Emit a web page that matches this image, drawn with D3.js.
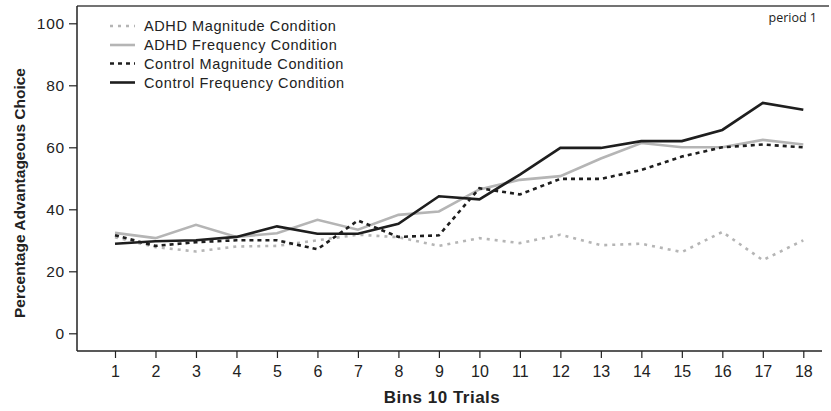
<!DOCTYPE html>
<html><head><meta charset="utf-8">
<script src="https://cdn.jsdelivr.net/npm/d3@7"></script>
<style>
body{margin:0;background:#fff;}
svg{display:block;}
</style></head><body>
<svg id="chart" width="831" height="411"></svg>
<script>
const bins = [1,2,3,4,5,6,7,8,9,10,11,12,13,14,15,16,17,18];
const adhdMagnitude = [31, 27.8, 26.4, 28, 28.2, 30, 31.8, 31, 28.2, 30.7, 29.1, 31.8, 28.4, 28.9, 26.2, 32.7, 23.6, 30];
const adhdFrequency = [32.4, 30.7, 35, 31.1, 32.3, 36.6, 33.4, 38.2, 39.3, 46.4, 49.5, 50.7, 56.4, 61.4, 60, 60, 62.4, 60.9];
const controlMagnitude = [31.6, 28.2, 29.4, 30, 30, 27.1, 36.4, 31.1, 31.6, 46.8, 44.8, 49.8, 49.8, 52.7, 57, 60, 60.9, 60];
const controlFrequency = [28.9, 29.7, 30, 31.1, 34.5, 32.1, 32.1, 35.3, 44.2, 43.2, 51.2, 59.8, 59.8, 62, 62, 65.6, 74.3, 72.1];
const yTicks = [0, 20, 40, 60, 80, 100];
const seriesNames = ["ADHD Magnitude Condition", "ADHD Frequency Condition", "Control Magnitude Condition", "Control Frequency Condition"];

const series = [
  {name: seriesNames[0], values: adhdMagnitude, color: "#b5b5b5", dash: "3,5"},
  {name: seriesNames[1], values: adhdFrequency, color: "#b5b5b5", dash: null},
  {name: seriesNames[2], values: controlMagnitude, color: "#1e1e1e", dash: "4,4"},
  {name: seriesNames[3], values: controlFrequency, color: "#1e1e1e", dash: null}
];

const svg = d3.select("#chart");
const frameLeft = 77, frameTop = 6, frameBottom = 351, frameRightTop = 829, frameRightBottom = 822;
const x = d3.scaleLinear().domain([1, 18]).range([115, 803.3]);
const y = d3.scaleLinear().domain([0, 100]).range([333.3, 23.3]);
const font = "'Liberation Sans', Arial, Helvetica, sans-serif";

// frame
svg.append("line").attr("x1", frameLeft).attr("x2", frameRightTop).attr("y1", frameTop).attr("y2", frameTop)
  .attr("stroke", "#444").attr("stroke-width", 1.5);
svg.append("line").attr("x1", frameLeft).attr("x2", frameLeft).attr("y1", frameTop).attr("y2", frameBottom)
  .attr("stroke", "#222").attr("stroke-width", 1.5);
svg.append("line").attr("x1", frameLeft).attr("x2", frameRightBottom).attr("y1", frameBottom).attr("y2", frameBottom)
  .attr("stroke", "#222").attr("stroke-width", 1.5);

// y axis
const yAxis = d3.axisLeft(y).tickValues(yTicks).tickSize(8).tickPadding(4);
const gy = svg.append("g").attr("transform", `translate(${frameLeft},0)`).call(yAxis);
gy.select(".domain").remove();
gy.selectAll(".tick line").attr("stroke", "#222").attr("stroke-width", 1.2);
gy.selectAll(".tick text").attr("font-family", font).attr("font-size", 15.5)
  .attr("letter-spacing", 0.8).attr("fill", "#222");

// x axis
const xAxis = d3.axisBottom(x).tickValues(bins).tickSize(7).tickPadding(8).tickFormat(d3.format("d"));
const gx = svg.append("g").attr("transform", `translate(0,${frameBottom})`).call(xAxis);
gx.select(".domain").remove();
gx.selectAll(".tick line").attr("stroke", "#222").attr("stroke-width", 1.2);
gx.selectAll(".tick text").attr("font-family", font)
  .attr("font-size", 16).attr("fill", "#222");

// lines
const line = d3.line().x((d, i) => x(bins[i])).y(d => y(d));
series.forEach(s => {
  svg.append("path").datum(s.values).attr("d", line)
    .attr("fill", "none").attr("stroke", s.color).attr("stroke-width", 2.6)
    .attr("stroke-dasharray", s.dash).attr("stroke-linejoin", "miter");
});

// legend
const legY = [26, 45, 63.5, 82.5];
series.forEach((s, i) => {
  svg.append("line").attr("x1", 110).attr("x2", 135).attr("y1", legY[i]).attr("y2", legY[i])
    .attr("stroke", s.color).attr("stroke-width", 2.6).attr("stroke-dasharray", s.dash);
  svg.append("text").attr("x", 144).attr("y", legY[i]).attr("dy", "0.35em")
    .attr("font-family", font).attr("font-size", 14.5).attr("letter-spacing", 0.6)
    .attr("fill", "#222").text(s.name);
});

// period label
svg.append("text").attr("x", 817).attr("y", 22).attr("text-anchor", "end")
  .attr("font-family", "'Open Sans', 'Noto Sans', sans-serif").attr("font-size", 12.5).attr("fill", "#222").text("period 1");

// axis titles
svg.append("text").attr("x", 442).attr("y", 403).attr("text-anchor", "middle")
  .attr("font-family", font).attr("font-weight", "bold").attr("font-size", 17).attr("letter-spacing", 0.5)
  .attr("fill", "#222").text("Bins 10 Trials");
svg.append("text").attr("transform", "translate(25,193) rotate(-90)").attr("text-anchor", "middle")
  .attr("font-family", font).attr("font-weight", "bold").attr("font-size", 15.5)
  .attr("textLength", 250).attr("lengthAdjust", "spacingAndGlyphs")
  .attr("fill", "#222").text("Percentage Advantageous Choice");
</script>
</body></html>
